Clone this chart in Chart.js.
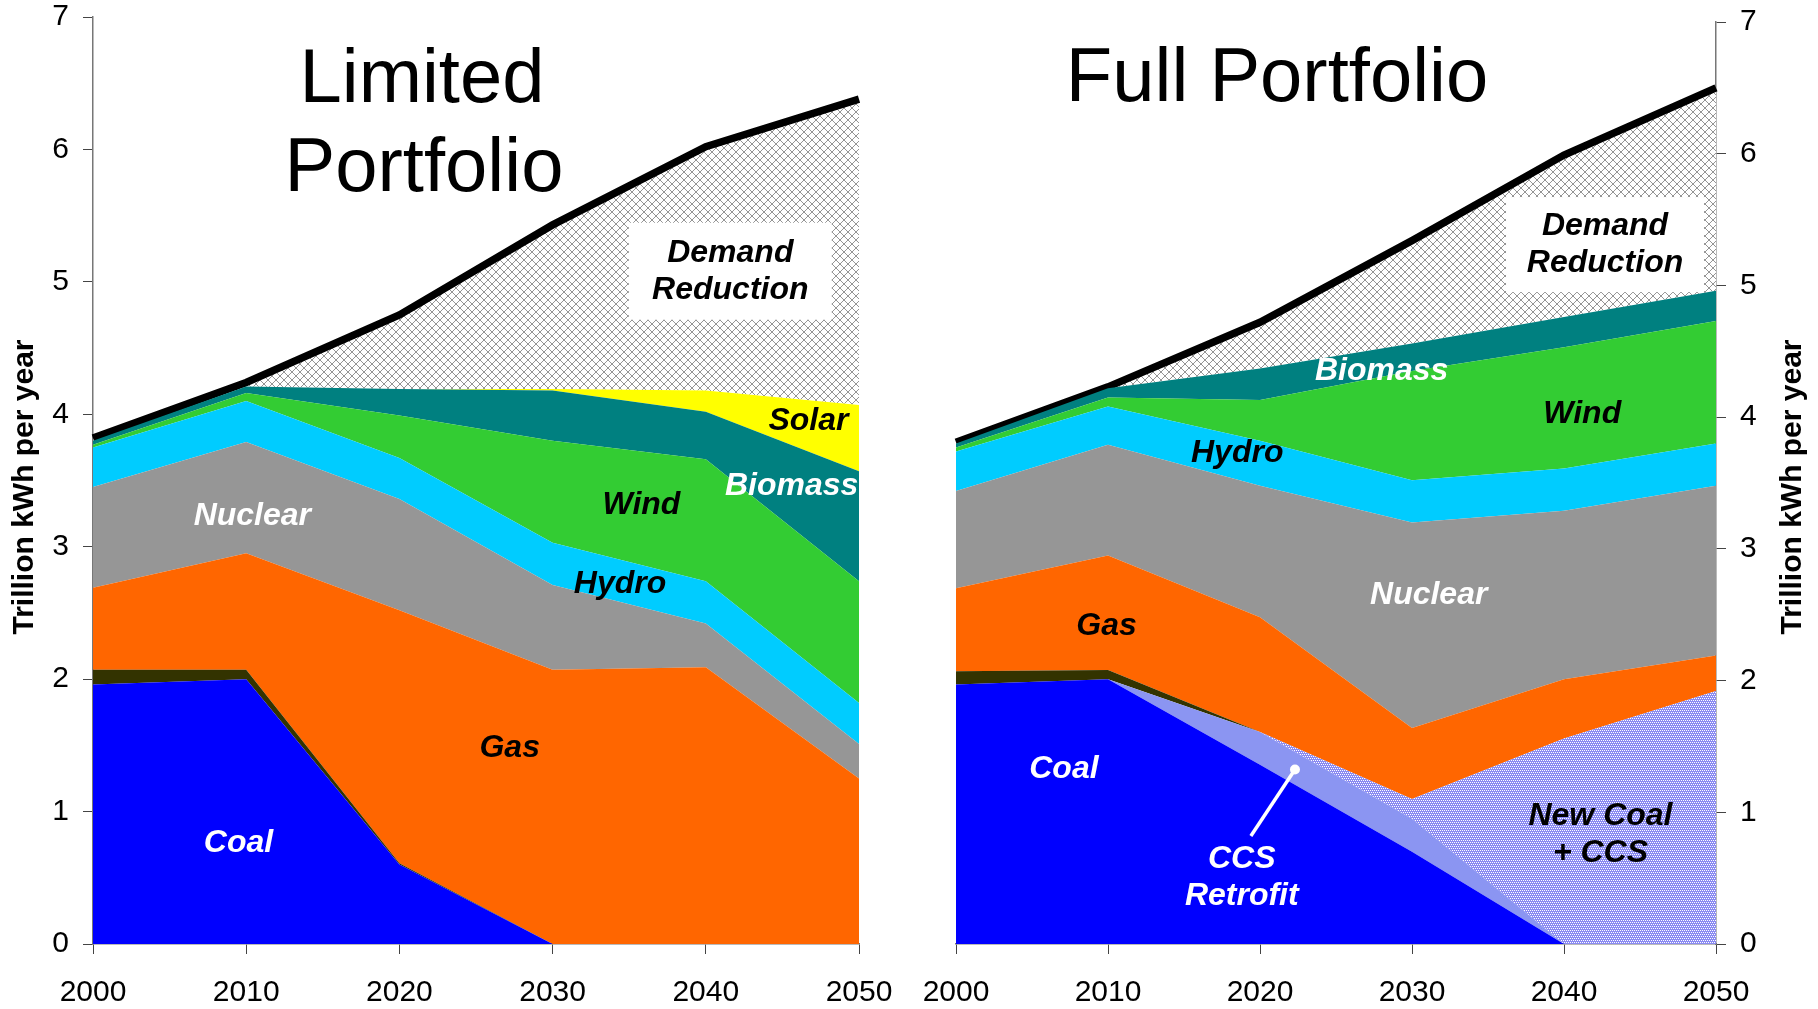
<!DOCTYPE html>
<html>
<head>
<meta charset="UTF-8">
<title>Limited vs Full Portfolio</title>
<script src="https://cdn.jsdelivr.net/npm/chart.js@4.4.1/dist/chart.umd.min.js"></script>
<style>
  body { margin: 0; background: #fff; }
  #wrap { position: relative; width: 1818px; height: 1009px; }
  canvas { position: absolute; top: 0; }
</style>
</head>
<body>
<div id="wrap">
  <canvas id="limited" width="909" height="1009" style="left:0"></canvas>
  <canvas id="full" width="909" height="1009" style="left:909px"></canvas>
</div>
<script>
// x categories
const years = ['2000', '2010', '2020', '2030', '2040', '2050'];
const yTicks = [0, 1, 2, 3, 4, 5, 6, 7];

// Limited Portfolio, trillion kWh per year (stacked slices, bottom to top)
const limCoal      = [1.96, 2.00, 0.60, 0.00, 0.00, 0.00];
const limOldCoal   = [0.11, 0.07, 0.01, 0.00, 0.00, 0.00];
const limGas       = [0.62, 0.88, 1.91, 2.07, 2.09, 1.25];
const limNuclear   = [0.76, 0.84, 0.84, 0.64, 0.33, 0.26];
const limHydro     = [0.30, 0.31, 0.31, 0.32, 0.32, 0.31];
const limWind      = [0.02, 0.06, 0.32, 0.77, 0.92, 0.92];
const limBiomass   = [0.03, 0.05, 0.20, 0.38, 0.36, 0.83];
const limSolar     = [0.00, 0.00, 0.00, 0.01, 0.16, 0.50];
const limDemandCut = [0.02, 0.03, 0.56, 1.24, 1.84, 2.31];

// Full Portfolio
const fullCoal      = [1.97, 2.01, 1.36, 0.70, 0.00, 0.00];
const fullRetrofit  = [0.00, 0.00, 0.25, 0.25, 0.00, 0.00];
const fullOldCoal   = [0.10, 0.07, 0.00, 0.00, 0.00, 0.00];
const fullNewCoal   = [0.00, 0.00, 0.00, 0.15, 1.56, 1.92];
const fullGas       = [0.63, 0.87, 0.87, 0.54, 0.45, 0.27];
const fullNuclear   = [0.74, 0.84, 1.00, 1.56, 1.28, 1.29];
const fullHydro     = [0.30, 0.29, 0.34, 0.32, 0.32, 0.32];
const fullWind      = [0.03, 0.07, 0.31, 0.83, 0.92, 0.93];
const fullBiomass   = [0.03, 0.07, 0.24, 0.21, 0.23, 0.23];
const fullDemandCut = [0.01, 0.01, 0.35, 0.78, 1.23, 1.54];

const FONT = "'Liberation Sans', Arial, sans-serif";

function hatchPattern() {
  const c = document.createElement('canvas');
  c.width = 8; c.height = 8;
  const g = c.getContext('2d');
  g.fillStyle = '#fff';
  g.fillRect(0, 0, 8, 8);
  g.fillStyle = '#959595';
  for (let i = 0; i < 8; i++) {
    g.fillRect(i, i, 1, 1);
    g.fillRect(7 - i, i, 1, 1);
  }
  return g.createPattern(c, 'repeat');
}

function dotPattern() {
  const c = document.createElement('canvas');
  c.width = 4; c.height = 4;
  const g = c.getContext('2d');
  g.fillStyle = '#8a8af2';
  g.fillRect(0, 0, 4, 4);
  g.fillStyle = '#fff';
  [[0, 0], [2, 0], [1, 2], [3, 2]].forEach(p => g.fillRect(p[0], p[1], 1, 1));
  return g.createPattern(c, 'repeat');
}

const hatch = hatchPattern();
const dots = dotPattern();

function area(label, data, color, first) {
  return {
    label: label,
    data: data,
    backgroundColor: color,
    borderWidth: 0,
    fill: first ? 'origin' : '-1',
    pointRadius: 0,
    tension: 0
  };
}

function demand(data) {
  return {
    label: 'Demand Reduction',
    data: data,
    backgroundColor: hatch,
    borderColor: '#000',
    borderWidth: 7.5,
    fill: '-1',
    pointRadius: 0,
    tension: 0
  };
}

// label text anchored in data units (year, trillion kWh)
const limLabels = [
  { text: ['Demand', 'Reduction'], year: 2041.6, v: 5.08, color: '#000', box: [203, 97] },
  { text: ['Solar'], year: 2046.7, v: 3.95, color: '#000' },
  { text: ['Biomass'], year: 2045.6, v: 3.46, color: '#fff' },
  { text: ['Wind'], year: 2035.8, v: 3.31, color: '#000' },
  { text: ['Nuclear'], year: 2010.4, v: 3.23, color: '#fff' },
  { text: ['Hydro'], year: 2034.4, v: 2.72, color: '#000' },
  { text: ['Gas'], year: 2027.2, v: 1.475, color: '#000' },
  { text: ['Coal'], year: 2009.5, v: 0.76, color: '#fff' }
];

const fullLabels = [
  { text: ['Demand', 'Reduction'], year: 2042.7, v: 5.31, color: '#000', box: [198, 95] },
  { text: ['Biomass'], year: 2028.0, v: 4.35, color: '#fff' },
  { text: ['Wind'], year: 2041.2, v: 4.02, color: '#000' },
  { text: ['Hydro'], year: 2018.5, v: 3.73, color: '#000' },
  { text: ['Nuclear'], year: 2031.1, v: 2.645, color: '#fff' },
  { text: ['Gas'], year: 2009.9, v: 2.41, color: '#000' },
  { text: ['Coal'], year: 2007.1, v: 1.33, color: '#fff' },
  { text: ['CCS', 'Retrofit'], year: 2018.8, v: 0.505, color: '#fff' },
  { text: ['New Coal', '+ CCS'], year: 2042.4, v: 0.83, color: '#000' }
];

const annotate = {
  id: 'annotate',
  afterDatasetsDraw(chart, args, opts) {
    const ctx = chart.ctx;
    const xs = chart.scales.x, ys = chart.scales.y;
    const px = yr => xs.getPixelForValue((yr - 2000) / 10);
    const py = v => ys.getPixelForValue(v);
    ctx.save();
    if (opts.pointer) {
      const p = opts.pointer;
      ctx.strokeStyle = '#fff';
      ctx.fillStyle = '#fff';
      ctx.lineWidth = 3.5;
      ctx.beginPath();
      ctx.moveTo(px(p[0]), py(p[1]));
      ctx.lineTo(px(p[2]), py(p[3]));
      ctx.stroke();
      ctx.beginPath();
      ctx.arc(px(p[0]), py(p[1]), 5, 0, Math.PI * 2);
      ctx.fill();
    }
    ctx.font = 'italic bold 32px ' + FONT;
    ctx.textAlign = 'center';
    ctx.textBaseline = 'middle';
    opts.labels.forEach(l => {
      const x = px(l.year), y = py(l.v);
      if (l.box) {
        ctx.fillStyle = '#fff';
        ctx.fillRect(x - l.box[0] / 2, y - l.box[1] / 2, l.box[0], l.box[1]);
      }
      ctx.fillStyle = l.color;
      const n = l.text.length;
      l.text.forEach((t, i) => ctx.fillText(t, x, y + (i - (n - 1) / 2) * 37));
    });
    ctx.restore();
  },
  afterDraw(chart, args, opts) {
    const ctx = chart.ctx;
    ctx.save();
    ctx.fillStyle = '#000';
    ctx.textAlign = 'center';
    ctx.textBaseline = 'alphabetic';
    ctx.font = '76px ' + FONT;
    opts.title.forEach(t => ctx.fillText(t[0], t[1], t[2]));
    ctx.translate(opts.axisTitleX, 487);
    ctx.rotate(-Math.PI / 2);
    ctx.font = 'bold 30px ' + FONT;
    ctx.textBaseline = 'middle';
    ctx.fillText('Trillion kWh per year', 0, 0);
    ctx.restore();
  }
};

function makeChart(id, datasets, side, pad, opts) {
  return new Chart(document.getElementById(id), {
    type: 'line',
    data: { labels: years, datasets: datasets },
    options: {
      responsive: false,
      animation: false,
      layout: { padding: pad },
      plugins: {
        legend: { display: false },
        tooltip: { enabled: false },
        annotate: opts
      },
      scales: {
        x: {
          grid: { drawOnChartArea: false, tickLength: 10, color: '#444' },
          border: { color: '#777', width: 1.5 },
          ticks: { color: '#000', font: { family: FONT, size: 30 }, padding: 21, maxRotation: 0 },
          afterFit: s => { s.height = 65; s.paddingLeft = 0; s.paddingRight = 0; }
        },
        y: {
          position: side,
          stacked: true,
          min: 0,
          max: 7,
          afterBuildTicks: s => { s.ticks = yTicks.map(v => ({ value: v })); },
          grid: { drawOnChartArea: false, tickLength: 10, color: '#444' },
          border: { color: '#777', width: 1.5 },
          ticks: { color: '#000', font: { family: FONT, size: 30 }, padding: 14 },
          afterFit: s => {
            s.width = side === 'left' ? 93 : 102;
            s.paddingTop = 0;
            s.paddingBottom = 0;
          }
        }
      }
    },
    plugins: [annotate]
  });
}

makeChart('limited', [
  area('Coal', limCoal, '#0000ff', true),
  area('Old Coal', limOldCoal, '#333300'),
  area('Gas', limGas, '#ff6600'),
  area('Nuclear', limNuclear, '#969696'),
  area('Hydro', limHydro, '#00ccff'),
  area('Wind', limWind, '#33cc33'),
  area('Biomass', limBiomass, '#008080'),
  area('Solar', limSolar, '#ffff00'),
  demand(limDemandCut)
], 'left', { top: 17, left: 0, right: 50, bottom: 0 }, {
  labels: limLabels,
  title: [['Limited', 422, 102], ['Portfolio', 424, 191]],
  axisTitleX: 25
});

makeChart('full', [
  area('Coal', fullCoal, '#0000ff', true),
  area('CCS Retrofit', fullRetrofit, '#8b95f2'),
  area('Old Coal', fullOldCoal, '#333300'),
  area('New Coal + CCS', fullNewCoal, dots),
  area('Gas', fullGas, '#ff6600'),
  area('Nuclear', fullNuclear, '#969696'),
  area('Hydro', fullHydro, '#00ccff'),
  area('Wind', fullWind, '#33cc33'),
  area('Biomass', fullBiomass, '#008080'),
  demand(fullDemandCut)
], 'right', { top: 22, left: 47, right: 0, bottom: 0 }, {
  labels: fullLabels,
  pointer: [2022.3, 1.325, 2019.4, 0.82],
  title: [['Full Portfolio', 368, 101]],
  axisTitleX: 884
});
</script>
</body>
</html>
